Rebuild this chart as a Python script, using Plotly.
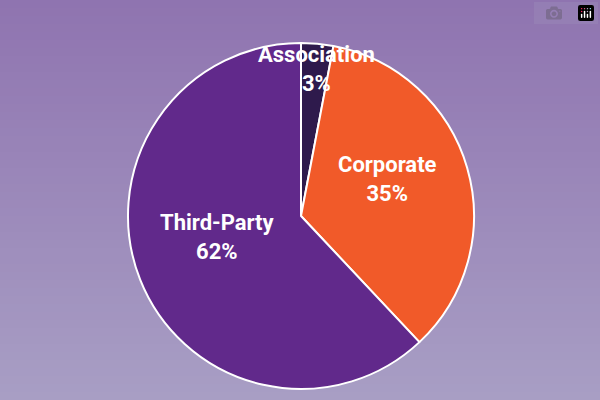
import math
import plotly.graph_objects as go

labels = ["Association", "Corporate", "Third-Party"]
values = [3, 35, 62]
colors = ["#2e1a4c", "#f15a29", "#61298b"]
label_radius = [0.95, 0.52, 0.52]

W, H = 600, 400
cx, cy, r = 301, 216, 173

fig = go.Figure(go.Pie(
    labels=labels, values=values, sort=False, direction="clockwise", rotation=0,
    marker=dict(colors=colors, line=dict(color="white", width=2)),
    textinfo="none", hoverinfo="label+percent", showlegend=False,
    domain=dict(x=[(cx - r) / W, (cx + r) / W], y=[(H - cy - r) / H, (H - cy + r) / H]),
))

# gradient background bands
top, bot = (143, 116, 176), (168, 158, 196)
n = 50
shapes = []
for i in range(n):
    t = i / (n - 1)
    c = tuple(round(top[k] + (bot[k] - top[k]) * t) for k in range(3))
    shapes.append(dict(type="rect", xref="paper", yref="paper", x0=0, x1=1,
                       y1=1 - i / n, y0=1 - (i + 1) / n, line_width=0,
                       fillcolor="rgb(%d,%d,%d)" % c, layer="below"))

total = sum(values)
acc = 0
annotations = []
for lab, v, f in zip(labels, values, label_radius):
    mid = (acc + v / 2) / total * 2 * math.pi
    acc += v
    x = cx + math.sin(mid) * r * f
    y = cy - math.cos(mid) * r * f - 12
    annotations.append(dict(x=x / W, y=1 - y / H, xref="paper", yref="paper",
                            text="<b>%s<br>%d%%</b>" % (lab, round(v / total * 100)),
                            showarrow=False,
                            font=dict(family="Roboto", size=22, color="white")))

fig.update_layout(width=W, height=H, margin=dict(l=0, r=0, t=0, b=0),
                  paper_bgcolor="#9a88b8", shapes=shapes, annotations=annotations)
fig.write_html("out.html", post_script="document.body.style.margin='0';")
